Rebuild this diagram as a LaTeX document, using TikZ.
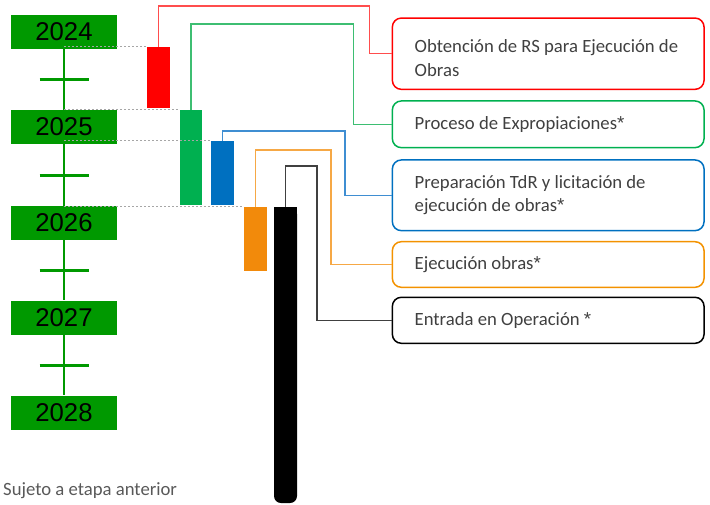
\documentclass[tikz,border=0pt]{standalone}
\usepackage{fontspec}
\setmainfont{Carlito}
\newfontfamily\yearfont{Liberation Sans}
\newfontfamily\astfont{Liberation Sans}
\newcommand{\myast}{{\astfont *}}
\usetikzlibrary{calc}
\definecolor{yg}{HTML}{009900}
\definecolor{rfill}{HTML}{FF0000}
\definecolor{gfill}{HTML}{00B050}
\definecolor{bfill}{HTML}{0070C0}
\definecolor{ofill}{HTML}{F28A0B}
\definecolor{rline}{HTML}{FF4D4D}
\definecolor{gline}{HTML}{3DBE72}
\definecolor{bline}{HTML}{3F8ED2}
\definecolor{oline}{HTML}{F6A845}
\definecolor{kline}{HTML}{404040}
\definecolor{rborder}{HTML}{FF0000}
\definecolor{gborder}{HTML}{00B050}
\definecolor{bborder}{HTML}{0070C0}
\definecolor{oborder}{HTML}{F39200}
\definecolor{txt}{HTML}{404040}
\definecolor{foot}{HTML}{595959}
\begin{document}
\begin{tikzpicture}[x=1pt,y=-1pt,
  year/.style={fill=yg, minimum width=106pt, minimum height=34pt, inner sep=0pt,
    font=\yearfont\fontsize{25.7}{30}\selectfont, text=black},
  barbox/.style={minimum width=23pt, inner sep=0pt, draw=none},
  lbox/.style={draw, line width=1.5pt, rounded corners=9pt, minimum width=311.7pt, inner sep=0pt},
  lbl/.style={anchor=west, align=left, inner sep=0pt, text=txt, font=\fontsize{18.7}{23.4}\selectfont},
  conn/.style={line width=1.3pt},
  guide/.style={color=black!35, dash pattern=on 2pt off 2pt, line width=0.9pt},
  tick/.style={yg, line width=3pt},
  tline/.style={yg, line width=2.5pt}]
\useasboundingbox (0,0) rectangle (710,504);

% timeline
\node[year] (y24) at (64,32) {2024};
\node[year] (y25) at (64,127) {2025};
\node[year] (y26) at (64,223) {2026};
\node[year] (y27) at (64,317.5) {2027};
\node[year] (y28) at (64,412.5) {2028};
\draw[tline] (y24.south) -- (y25.north);
\draw[tline] (y25.south) -- (y26.north);
\draw[tline] (y26.south) -- (y27.north);
\draw[tline] (y27.south) -- (y28.north);
\foreach \a/\b in {y24/y25,y25/y26,y26/y27,y27/y28}{
  \coordinate (m) at ($(\a.south)!0.5!(\b.north)$);
  \draw[tick] ($(m)+(-24.5,0)$) -- ($(m)+(24.5,0)$);
}

% bars
\node[barbox, fill=rfill, minimum height=61pt] (rbar) at (158.5,77.5) {};
\node[barbox, fill=gfill, minimum width=22pt, minimum height=95pt] (gbar) at (191,157.5) {};
\node[barbox, fill=bfill, minimum height=64pt] (bbar) at (222.5,173) {};
\node[barbox, fill=ofill, minimum height=64pt] (obar) at (255.5,239) {};
\fill[black, rounded corners=7pt] (274,207) rectangle (297,503);
\fill[black] (274,207) rectangle (297,260);
\coordinate (kbar) at (285.7,207);

% guides
\draw[guide] (rbar.north west -| y24.south) -- (rbar.north west);
\draw[guide] (gbar.north west -| y24.south) -- (gbar.north west);
\draw[guide] (bbar.north west -| y24.south) -- (bbar.north west);
\draw[guide] (obar.north west -| y24.south) -- (obar.north west);

% label boxes
\node[lbox, draw=rborder, minimum height=71.3pt] (rb) at (548.2,53.7) {};
\node[lbox, draw=gborder, minimum height=46.7pt] (gb) at (548.2,124.3) {};
\node[lbox, draw=bborder, minimum height=70.7pt] (bb) at (548.2,195.3) {};
\node[lbox, draw=oborder, minimum height=45.6pt] (ob) at (548.2,264.5) {};
\node[lbox, draw=black, minimum height=46pt] (kb) at (548.2,320.3) {};

\node[lbl] (t1) at (414.5,58) {Obtención de RS para Ejecución de\\Obras};
\node[lbl] (t2) at (414.5,124.3) {Proceso de Expropiaciones\myast};
\node[lbl] (t3) at (414.5,195) {Preparación TdR y licitación de\\ejecución de obras\myast};
\node[lbl] (t4) at (414.5,264.5) {Ejecución obras\myast};
\node[lbl] (t5) at (414.5,320.3) {Entrada en Operación \myast};

% connectors
\draw[conn, rline] (rbar.north) |- (369.7,6) |- (rb.west);
\draw[conn, gline] (gbar.north) |- (353.3,24) |- (gb.west);
\draw[conn, bline] (bbar.north) |- (345,131) |- (bb.west);
\draw[conn, oline] (obar.north) |- (331,150) |- (ob.west);
\draw[conn, kline] (kbar) |- (317,166) |- (kb.west);

% footer
\node[anchor=base west, inner sep=0pt, text=foot, font=\fontsize{18.7}{23.4}\selectfont] (note) at (3,495) {Sujeto a etapa anterior};
\end{tikzpicture}
\end{document}
